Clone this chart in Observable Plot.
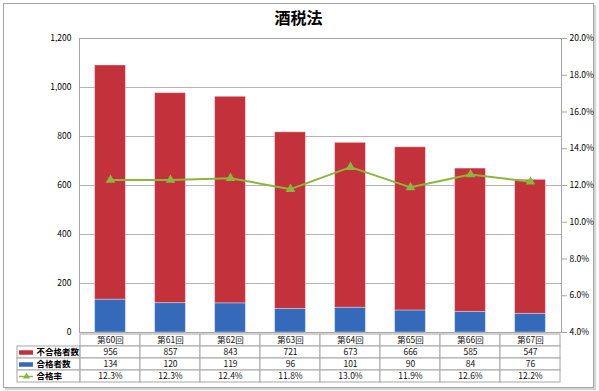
<!DOCTYPE html>
<html><head><meta charset="utf-8">
<script src="https://cdn.jsdelivr.net/npm/d3@7"></script>
<script src="https://cdn.jsdelivr.net/npm/@observablehq/plot@0.6"></script>
<style>
body{margin:0;background:#fff;font-family:"Noto Sans CJK JP",sans-serif;}
#wrap{position:relative;width:599px;height:391px;overflow:hidden;background:#fff;}
#frame{position:absolute;left:3px;top:3px;width:589px;height:383px;border:1px solid #a6a6a6;box-shadow:2px 2px 1px #d4d4d4;}
#title{position:absolute;left:0;top:6px;width:597px;text-align:center;font-weight:bold;font-size:16px;line-height:22px;color:#000;}
#chart,#table{position:absolute;left:0;}
#chart{top:0;} #table{top:332px;}
</style></head>
<body>
<div id="wrap"><div id="frame"></div><div id="title">酒税法</div><div id="chart"></div><div id="table"></div></div>
<script>
const categories = ["第60回","第61回","第62回","第63回","第64回","第65回","第66回","第67回"];
const failed = [956, 857, 843, 721, 673, 666, 585, 547];
const passed = [134, 120, 119, 96, 101, 90, 84, 76];
const rate = [12.3, 12.3, 12.4, 11.8, 13.0, 11.9, 12.6, 12.2];
const leftTicks = [0, 200, 400, 600, 800, 1000, 1200];
const rightTicks = [4, 6, 8, 10, 12, 14, 16, 18, 20];
const seriesNames = ["不合格者数", "合格者数", "合格率"];

const RED = "#c3313b", BLUE = "#3569b9", GREEN = "#8db63c", GRID = "#b4b4b4", LINE = "#a6a6a6";
const FONT = "'Noto Sans CJK JP', sans-serif";
const yMax = 1200, rMin = 4, rMax = 20;
const yMap = r => (r - rMin) / (rMax - rMin) * yMax;
const rUnmap = v => v / yMax * (rMax - rMin) + rMin;

const bars = [];
categories.forEach((c, i) => {
  bars.push({cat: c, series: seriesNames[1], value: passed[i]});
  bars.push({cat: c, series: seriesNames[0], value: failed[i]});
});
const rows = categories.map((c, i) => ({cat: c, rate: rate[i]}));

const chart = Plot.plot({
  width: 599, height: 340,
  marginTop: 38, marginBottom: 8, marginLeft: 79, marginRight: 38,
  style: {background: "transparent", fontFamily: FONT, fontSize: "8.5px", color: "#000", overflow: "visible"},
  x: {type: "band", domain: categories, padding: 0, axis: null},
  y: {domain: [0, yMax], axis: null},
  color: {domain: seriesNames.slice(0, 2), range: [RED, BLUE]},
  marks: [
    Plot.gridY(leftTicks, {stroke: GRID, strokeOpacity: 1}),
    Plot.barY(bars, {x: "cat", y: "value", fill: "series", order: [seriesNames[1], seriesNames[0]],
      insetLeft: 14.6, insetRight: 14.6, stroke: "#fff", strokeOpacity: 0.35}),
    Plot.frame({stroke: LINE}),
    Plot.axisY(leftTicks, {label: null, tickSize: 0, tickPadding: 8, tickFormat: d3.format(",")}),
    Plot.axisY(rightTicks.map(yMap), {label: null, anchor: "right", tickSize: 5, tickPadding: 3, stroke: LINE,
      tickFormat: v => rUnmap(v).toFixed(1) + "%"}),
    Plot.lineY(rows, {x: "cat", y: d => yMap(d.rate), stroke: GREEN, strokeWidth: 2}),
    Plot.dot(rows, {x: "cat", y: d => yMap(d.rate), symbol: "triangle", fill: GREEN, r: 3.6})
  ]
});
document.getElementById("chart").appendChild(chart);

const rowKeys = ["header", ...seriesNames];
const cells = [];
categories.forEach((c, i) => {
  cells.push({cat: c, row: "header", text: c});
  cells.push({cat: c, row: seriesNames[0], text: String(failed[i])});
  cells.push({cat: c, row: seriesNames[1], text: String(passed[i])});
  cells.push({cat: c, row: seriesNames[2], text: rate[i].toFixed(1) + "%"});
});
const bw = (599 - 79 - 38) / categories.length;

const table = Plot.plot({
  width: 599, height: 52,
  marginTop: 0, marginBottom: 1, marginLeft: 79, marginRight: 38,
  style: {background: "transparent", fontFamily: FONT, fontSize: "8.5px", color: "#000", overflow: "visible"},
  x: {type: "band", domain: categories, padding: 0, axis: null},
  y: {type: "band", domain: rowKeys, padding: 0, axis: null},
  color: {domain: seriesNames.slice(0, 2), range: [RED, BLUE]},
  marks: [
    Plot.cell(cells, {x: "cat", y: "row", fill: "white", stroke: LINE}),
    Plot.cell(seriesNames, {x: () => categories[0], y: d => d, dx: -bw, insetLeft: -(63 - bw), fill: "white", stroke: LINE}),
    Plot.text(cells, {x: "cat", y: "row", text: "text", fill: "#111"}),
    Plot.ruleY(seriesNames.slice(0, 2), {y: d => d, stroke: d => d, strokeWidth: 4.5, insetLeft: -60, insetRight: 528}),
    Plot.ruleY(seriesNames.slice(2), {y: d => d, stroke: GREEN, strokeWidth: 1.5, insetLeft: -60, insetRight: 528}),
    Plot.dot(seriesNames.slice(2), {y: d => d, frameAnchor: "left", dx: -53, symbol: "triangle", fill: GREEN, r: 2.6}),
    Plot.text(seriesNames, {y: d => d, frameAnchor: "left", dx: -43, textAnchor: "start", text: d => d, fontSize: 8.5, fontWeight: "bold", fill: "#000"})
  ]
});
document.getElementById("table").appendChild(table);
</script>
</body></html>
